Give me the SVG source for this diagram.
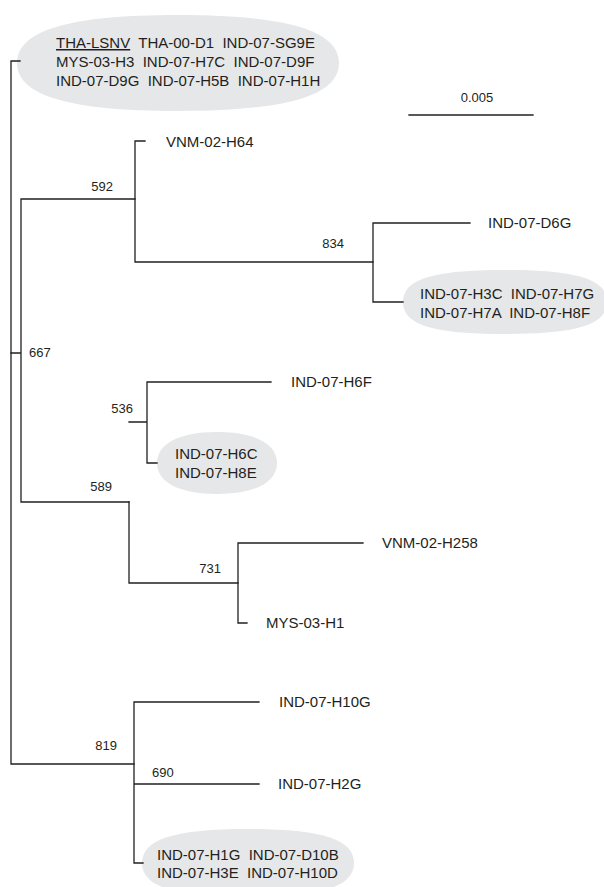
<svg xmlns="http://www.w3.org/2000/svg" width="604" height="887" viewBox="0 0 604 887">
<style>
.t{font-family:"Liberation Sans",Arial,sans-serif;font-size:15px;fill:#231f20}
.b{font-family:"Liberation Sans",Arial,sans-serif;font-size:13px;fill:#231f20}
.e{fill:#e6e7e8;stroke:none}
.l{stroke:#231f20;stroke-width:1.3;fill:none;stroke-linecap:square}
</style>
<rect width="604" height="887" fill="#ffffff"/>
<g id="clade-top">
<path class="e" d="M17,63 C17,29.4 72.6,15 178,15 C283.4,15 339,29.4 339,63 C339,96.6 283.4,111 178,111 C72.6,111 17,96.6 17,63 Z"/>
<text class="t" xml:space="preserve" x="56" y="48"><tspan text-decoration="underline">THA-LSNV</tspan>  THA-00-D1  IND-07-SG9E</text>
<text class="t" xml:space="preserve" x="56" y="67">MYS-03-H3  IND-07-H7C  IND-07-D9F</text>
<text class="t" xml:space="preserve" x="56" y="86">IND-07-D9G  IND-07-H5B  IND-07-H1H</text>
</g>
<g id="leaf-VNM-02-H64"><text class="t" x="166" y="147">VNM-02-H64</text></g>
<g id="leaf-IND-07-D6G"><text class="t" x="488" y="228">IND-07-D6G</text></g>
<g id="clade-834">
<path class="e" d="M403,302 C403,279.6 431.6,270 505,270 C578.4,270 607,279.6 607,302 C607,324.4 578.4,334 505,334 C431.6,334 403,324.4 403,302 Z"/>
<text class="t" xml:space="preserve" x="420" y="299">IND-07-H3C  IND-07-H7G</text>
<text class="t" xml:space="preserve" x="420" y="318">IND-07-H7A  IND-07-H8F</text>
</g>
<g id="leaf-IND-07-H6F"><text class="t" x="291" y="387">IND-07-H6F</text></g>
<g id="clade-536">
<path class="e" d="M157,463 C157,444.4 178,432 217,432 C256,432 277,444.4 277,463 C277,481.6 256,494 217,494 C178,494 157,481.6 157,463 Z"/>
<text class="t" x="175" y="459">IND-07-H6C</text>
<text class="t" x="175" y="478">IND-07-H8E</text>
</g>
<g id="leaf-VNM-02-H258"><text class="t" x="382" y="548">VNM-02-H258</text></g>
<g id="leaf-MYS-03-H1"><text class="t" x="266" y="628">MYS-03-H1</text></g>
<g id="leaf-IND-07-H10G"><text class="t" x="279" y="707">IND-07-H10G</text></g>
<g id="leaf-IND-07-H2G"><text class="t" x="278" y="789">IND-07-H2G</text></g>
<g id="clade-bottom">
<path class="e" d="M142,863 C142,839.2 174.6,829 248,829 C321.4,829 354,839.2 354,863 C354,886.8 321.4,897 248,897 C174.6,897 142,886.8 142,863 Z"/>
<text class="t" xml:space="preserve" x="157" y="860">IND-07-H1G  IND-07-D10B</text>
<text class="t" xml:space="preserve" x="157" y="878">IND-07-H3E  IND-07-H10D</text>
</g>
<g id="bootstrap">
<text class="b" x="113" y="191" text-anchor="end">592</text>
<text class="b" x="344" y="248" text-anchor="end">834</text>
<text class="b" x="29" y="357">667</text>
<text class="b" x="133" y="413" text-anchor="end">536</text>
<text class="b" x="112" y="491" text-anchor="end">589</text>
<text class="b" x="221" y="573" text-anchor="end">731</text>
<text class="b" x="117" y="750" text-anchor="end">819</text>
<text class="b" x="152" y="777">690</text>
</g>
<g id="scale">
<text class="b" x="477" y="102" text-anchor="middle">0.005</text>
<line class="l" x1="409" y1="115" x2="533" y2="115"/>
</g>
<g id="connectors" class="l">
<path d="M20,61 H11 V764 H134"/>
<path d="M11,353 H21 M135,199 H21 V502 H129"/>
<path d="M145,141 H135 V262 H373"/>
<path d="M470,223 H373 V302 H403"/>
<path d="M129,422 H147 M271,382 H147 V463 H157"/>
<path d="M129,502 V583 H238"/>
<path d="M363,543 H238 V623 H247"/>
<path d="M259,702 H134 V863 H143 M134,784 H259"/>
</g>
</svg>
